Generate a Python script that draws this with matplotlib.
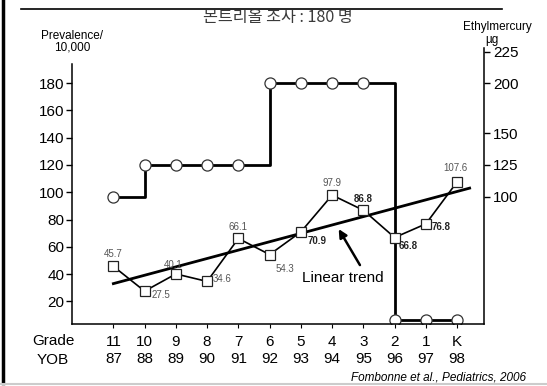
import numpy as np
import matplotlib
matplotlib.use("Agg")
import matplotlib.pyplot as plt
from matplotlib.lines import Line2D
from matplotlib.patches import Rectangle

plt.rcParams['font.family'] = ['Liberation Sans', 'Noto Sans CJK KR', 'DejaVu Sans']

# ---- data ----
grades = ['11', '10', '9', '8', '7', '6', '5', '4', '3', '2', '1', 'K']
yob = ['87', '88', '89', '90', '91', '92', '93', '94', '95', '96', '97', '98']
prevalence = [45.7, 27.5, 40.1, 34.6, 66.1, 54.3, 70.9, 97.9, 86.8, 66.8, 76.8, 107.6]
bold_labels = [False, False, False, False, False, False, True, False, True, True, True, False]
ethylmercury = [100, 125, 125, 125, 125, 200, 200, 200, 200, 0, 0, 0]
trend_x = [0, 11.4]
trend_y = [33, 103]
left_ticks = [20, 40, 60, 80, 100, 120, 140, 160, 180]
right_ticks = [100, 125, 150, 200, 225]

# label offsets (pixels)
label_off = [(0, 12), (16, -4), (-3, 9), (15, 2), (0, 11), (15, -14),
             (16, -9), (0, 12), (0, 11), (14, -8), (15, -3), (-2, 14)]

x = np.arange(len(grades))

fig = plt.figure(figsize=(5.47, 3.86), dpi=100)
ax = fig.add_axes([0.1324, 0.1606, 0.753, 0.715])
ax.set_xlim(-1.31, 11.87)
ax.set_ylim(3.4, 205.7)

# main series
ax.plot(x, prevalence, color='black', lw=1.2, marker='s', ms=7,
        mfc='white', mec='#222222', mew=0.9, zorder=4)
ax.plot(trend_x, trend_y, color='black', lw=2.0, zorder=3)

for xi, v, b, off in zip(x, prevalence, bold_labels, label_off):
    ax.annotate(f"{v}", (xi, v), xytext=off, textcoords='offset pixels',
                ha='center', va='center', fontsize=7,
                fontweight='bold' if b else 'normal',
                color='#222222' if b else '#555555', zorder=5)

ax.annotate('', xy=(7.21, 73.0), xytext=(7.89, 46.6),
            arrowprops=dict(arrowstyle='-|>', color='black', lw=1.8,
                            mutation_scale=12, shrinkA=0, shrinkB=0))
ax.text(7.35, 37.3, 'Linear trend', ha='center', va='center', fontsize=11)

# spines / ticks
ax.spines['top'].set_visible(False)
ax.spines['right'].set_visible(False)
ax.spines['left'].set_bounds(3.4, 194)
for s in ['left', 'bottom']:
    ax.spines[s].set_linewidth(1.1)
ax.set_yticks(left_ticks)
ax.tick_params(axis='y', labelsize=11, length=4.3, width=1, pad=1.5)
ax.set_xticks(x)
ax.set_xticklabels([f"{g}\n{y}" for g, y in zip(grades, yob)], fontsize=11,
                   linespacing=1.25)
ax.tick_params(axis='x', length=3, width=0.8, pad=5)

# right axis with non-linear (as drawn) ethylmercury scale
E = np.array([-60.0, 0, 100, 125, 150, 200, 225, 300])
L = np.array([-48.0, 6.3, 96.7, 120.0, 143.2, 180.0, 202.8, 271.0])
fwd = lambda e: np.interp(e, E, L)
inv = lambda l: np.interp(l, L, E)
tw = ax.twinx()
tw.set_yscale('function', functions=(fwd, inv))
tw.set_ylim(inv(3.4), inv(205.7))
tw.step(x, ethylmercury, where='post', color='black', lw=2.0, zorder=2)
tw.plot(x, ethylmercury, ls='none', marker='o', ms=8, mfc='white',
        mec='#333333', mew=0.9, zorder=3)
tw.set_yticks(right_ticks)
tw.set_yticklabels([str(t) for t in right_ticks])
tw.yaxis.set_minor_locator(matplotlib.ticker.NullLocator())
tw.tick_params(axis='y', labelsize=11, length=4, width=1, pad=2.5)
for s in ['top', 'left', 'bottom']:
    tw.spines[s].set_visible(False)
tw.spines['right'].set_linewidth(1.1)
ax.set_zorder(tw.get_zorder() + 1)
ax.patch.set_visible(False)

# texts
fig.text(72 / 547, 1 - 36 / 386, 'Prevalence/', ha='center', va='center', fontsize=8.5)
fig.text(72 / 547, 1 - 47 / 386, '10,000', ha='center', va='center', fontsize=8.5)
fig.text(497 / 547, 1 - 27 / 386, 'Ethylmercury', ha='center', va='center', fontsize=8.5)
fig.text(492 / 547, 1 - 40 / 386, 'µg', ha='center', va='center', fontsize=8.5)
fig.text(53 / 547, 1 - 341 / 386, 'Grade', ha='center', va='center', fontsize=11)
fig.text(53 / 547, 1 - 360 / 386, 'YOB', ha='center', va='center', fontsize=11)
fig.text(278 / 547, 1 - 22 / 386, '몬트리올 조사 : 180 명', ha='center', va='baseline',
         fontsize=11.7, color='#3a3a3a', family=['Noto Sans CJK KR', 'DejaVu Sans'],
         zorder=3)
fig.text(526 / 547, 1 - 378 / 386, 'Fombonne et al., Pediatrics, 2006', ha='right',
         va='center', fontsize=8.5, style='italic')

# slide decorations (title top is hidden behind the slide header line)
fig.add_artist(Rectangle((15 / 547, 1 - 9.5 / 386), 490 / 547, 9.5 / 386,
                         transform=fig.transFigure, facecolor='white',
                         edgecolor='none', zorder=4))
fig.add_artist(Line2D([21 / 547, 502 / 547], [1 - 9 / 386, 1 - 9 / 386],
                      transform=fig.transFigure, color='black', lw=1.2, zorder=5))
fig.add_artist(Line2D([3 / 547, 3 / 547], [1 - 383 / 386, 1.0],
                      transform=fig.transFigure, color='black', lw=2.5, zorder=5))
fig.add_artist(Line2D([0, 1], [1 - 384 / 386, 1 - 384 / 386],
                      transform=fig.transFigure, color='#cccccc', lw=1.5, zorder=5))

fig.savefig('out.png', dpi=100)
